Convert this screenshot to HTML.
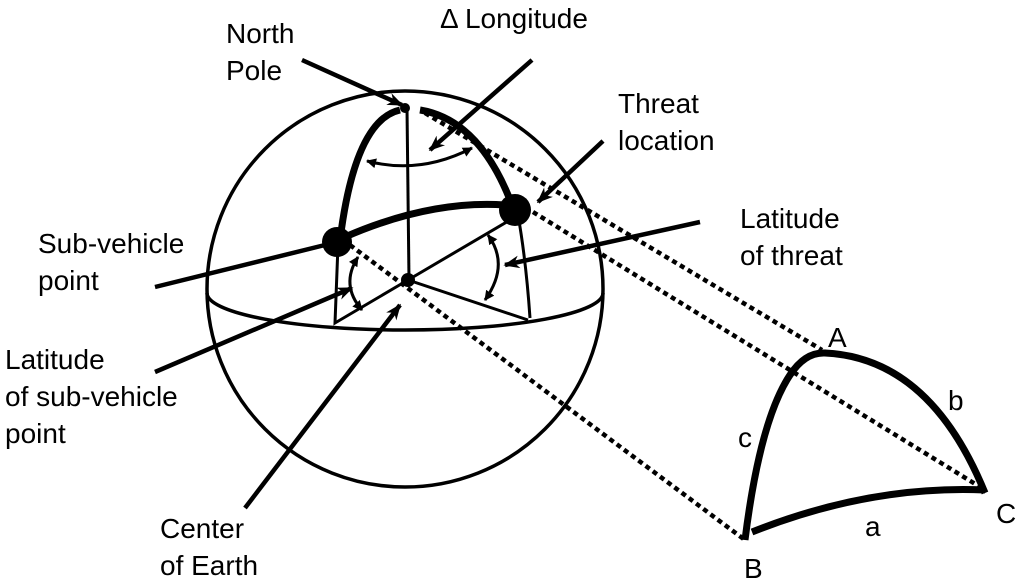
<!DOCTYPE html>
<html><head><style>
body{margin:0;background:#fff}
svg{display:block}
text{font-family:"Liberation Sans",sans-serif;font-size:28px;fill:#000}
</style></head><body>
<svg width="1027" height="586" viewBox="0 0 1027 586" xmlns="http://www.w3.org/2000/svg">
<defs>
<marker id="ar" viewBox="0 0 10 10" refX="9" refY="5" markerWidth="10" markerHeight="10" markerUnits="userSpaceOnUse" orient="auto-start-reverse">
<path d="M0,0 L10,5 L0,10 z" fill="#000"/></marker>
<marker id="al" viewBox="0 0 10 10" refX="9" refY="5" markerWidth="16" markerHeight="16" markerUnits="userSpaceOnUse" orient="auto">
<path d="M0,1 L10,5 L0,9 L3,5 z" fill="#000"/></marker>
</defs>
<g fill="none" stroke="#000">
<circle cx="405" cy="289" r="198" stroke-width="3.5"/>
<path d="M207,293 A198,37 0 0 0 603,293" stroke-width="3.5"/>
<g stroke-width="4.5" stroke-dasharray="5,4">
<line x1="425" y1="113" x2="822" y2="350"/>
<line x1="533" y1="212" x2="985" y2="490"/>
<line x1="350" y1="245" x2="745" y2="540"/>
</g>
<g stroke-width="3">
<line x1="407" y1="108" x2="409" y2="280"/>
<path d="M338,245 L335,323 L408,280 L528,320"/>
<line x1="408" y1="280" x2="510" y2="220"/>
<path d="M518,215 Q526,260 530,318"/>
</g>
<g stroke-width="7">
<path d="M340,240 Q355,120 400,110"/>
<path d="M420,110 Q480,120 512,205"/>
<path d="M345,237 Q430,200 505,205"/>
</g>
<g stroke-width="3">
<path d="M367,161 Q420,175 472,148" marker-start="url(#ar)" marker-end="url(#ar)"/>
<path d="M358,257 Q340,285 362,310" marker-start="url(#ar)" marker-end="url(#ar)"/>
<path d="M488,235 Q510,265 485,300" marker-start="url(#ar)" marker-end="url(#ar)"/>
</g>
<g stroke-width="4.5">
<line x1="302" y1="60" x2="402" y2="105" marker-end="url(#al)"/>
<line x1="532" y1="60" x2="430" y2="150" marker-end="url(#al)"/>
<line x1="603" y1="141" x2="538" y2="202" marker-end="url(#al)"/>
<line x1="700" y1="222" x2="505" y2="265" marker-end="url(#al)"/>
<line x1="155" y1="287" x2="325" y2="245"/>
<line x1="155" y1="372" x2="352" y2="288" marker-end="url(#al)"/>
<line x1="245" y1="508" x2="400" y2="305" marker-end="url(#al)"/>
</g>
<g stroke-width="7" stroke-linejoin="round">
<path d="M745,540 Q760,420 790,375 Q805,352 825,353 Q930,358 985,493"/>
<path d="M752,532 Q870,485 985,490"/>
</g>
</g>
<circle cx="405" cy="108" r="5"/>
<circle cx="408" cy="280" r="7"/>
<circle cx="337" cy="242" r="15"/>
<circle cx="515" cy="210" r="16"/>
<text x="226" y="43">North</text>
<text x="226" y="80">Pole</text>
<text x="440" y="28">Δ Longitude</text>
<text x="618" y="113">Threat</text>
<text x="618" y="150">location</text>
<text x="740" y="228">Latitude</text>
<text x="740" y="265">of threat</text>
<text x="38" y="253">Sub-vehicle</text>
<text x="38" y="290">point</text>
<text x="5" y="369">Latitude</text>
<text x="5" y="406">of sub-vehicle</text>
<text x="5" y="443">point</text>
<text x="160" y="538">Center</text>
<text x="160" y="575">of Earth</text>
<text x="828" y="347">A</text>
<text x="948" y="410">b</text>
<text x="738" y="447">c</text>
<text x="996" y="523">C</text>
<text x="865" y="536">a</text>
<text x="744" y="578">B</text>
</svg>
</body></html>
